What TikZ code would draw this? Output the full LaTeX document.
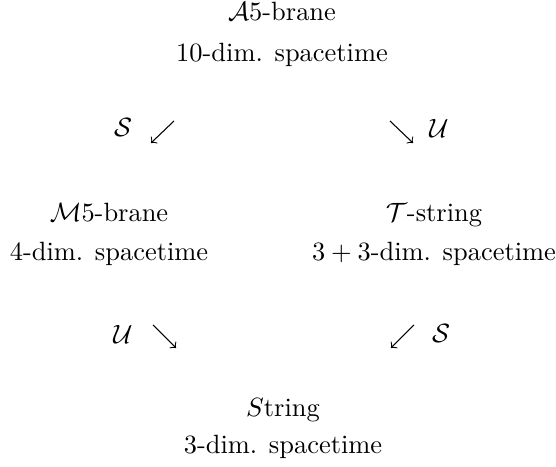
\documentclass[tikz,border=0pt]{standalone}
\usepackage{amsmath}
\usepackage{amssymb}

\begin{document}
\begin{tikzpicture}[x=0.3784pt,y=-0.3784pt,txt/.style={anchor=base,inner sep=0pt}]
	%Rahmen festlegen
	\useasboundingbox (0,0) rectangle (556,467);
	% oben
	\node[txt] (A) at (282,21) {$\mathcal{A}$5-brane};
	\node[txt] (Adim) at (282,62) {10-dim. spacetime};
	% Mitte
	\node[txt] (M) at (109,222) {$\mathcal{M}$5-brane};
	\node[txt] (Mdim) at (109,261) {4-dim. spacetime};
	\node[txt] (T) at (434,222) {$\mathcal{T}$-string};
	\node[txt] (Tdim) at (434,261) {$3+3$-dim. spacetime};
	% unten
	\node[txt] (St) at (283,417) {$S$tring};
	\node[txt] (Stdim) at (283,454) {3-dim. spacetime};
	% Pfeile oben
	\coordinate (o1) at (174,121);
	\coordinate (o2) at (151,143);
	\coordinate (o3) at (390,121);
	\coordinate (o4) at (413,143);
	\draw[-to] (o1) -- (o2);
	\draw[-to] (o3) -- (o4);
	\node[txt] (S1) at (123,137) {$\mathcal{S}$};
	\node[txt] (U1) at (439,138) {$\mathcal{U}$};
	% Pfeile unten
	\coordinate (u1) at (153,325);
	\coordinate (u2) at (176,348);
	\coordinate (u3) at (414,325);
	\coordinate (u4) at (391,348);
	\draw[-to] (u1) -- (u2);
	\draw[-to] (u3) -- (u4);
	\node[txt] (U2) at (123,344) {$\mathcal{U}$};
	\node[txt] (S2) at (441,343) {$\mathcal{S}$};
\end{tikzpicture}
\end{document}
